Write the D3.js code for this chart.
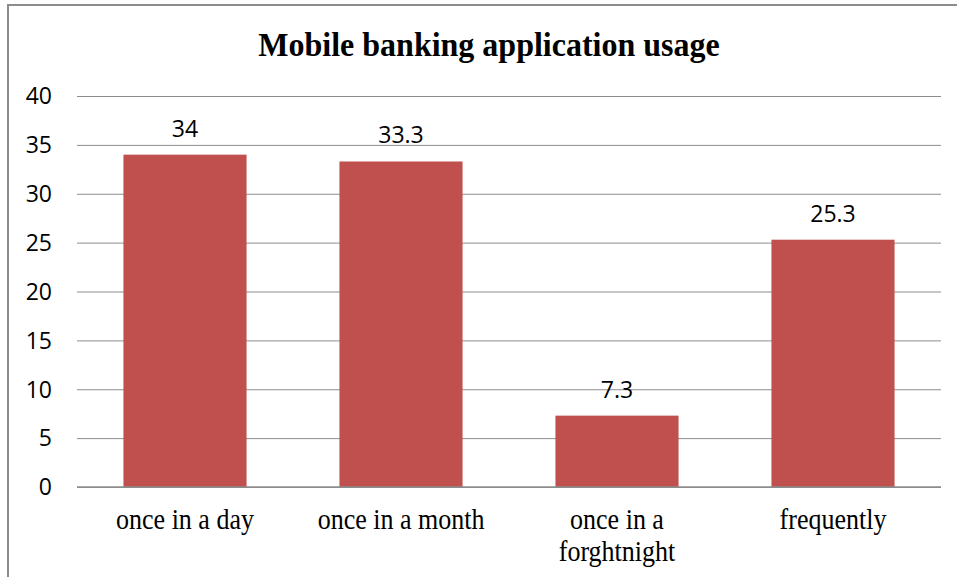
<!DOCTYPE html>
<html>
<head>
<meta charset="utf-8">
<script src="https://cdn.jsdelivr.net/npm/d3@7"></script>
<style>
  html, body { margin: 0; padding: 0; background: #fff; }
  svg { display: block; }
</style>
</head>
<body>
<svg id="chart" width="957" height="577"></svg>
<script>
const title = "Mobile banking application usage";
const categories = ["once in a day", "once in a month", "once in a forghtnight", "frequently"];
const categoryLines = [["once in a day"], ["once in a month"], ["once in a", "forghtnight"], ["frequently"]];
const values = [34, 33.3, 7.3, 25.3];
const valueLabels = ["34", "33.3", "7.3", "25.3"];
const yTicks = [0, 5, 10, 15, 20, 25, 30, 35, 40];

const W = 957, H = 577;
const margin = { left: 77, right: 16, top: 96, bottom: 90 };
const svg = d3.select("#chart");
const numFont = "'Open Sans', 'Liberation Sans', sans-serif";
const serifFont = "'Liberation Serif', 'Times New Roman', serif";

// outer border
svg.append("rect")
  .attr("x", 8).attr("y", 5)
  .attr("width", 980).attr("height", 600)
  .attr("fill", "#fff")
  .attr("stroke", "#8c8c8c")
  .attr("stroke-width", 2);

const x = d3.scaleBand()
  .domain(categories)
  .range([margin.left, W - margin.right])
  .paddingInner(0.43)
  .paddingOuter(0.215);

const y = d3.scaleLinear()
  .domain([0, 40])
  .range([H - margin.bottom, margin.top]);

// gridlines + tick labels
const yAxis = d3.axisLeft(y)
  .tickValues(yTicks)
  .tickSize(-(W - margin.right - margin.left))
  .tickFormat(d3.format("d"));

const gy = svg.append("g")
  .attr("transform", `translate(${margin.left},0)`)
  .call(yAxis);
gy.select(".domain").remove();
gy.selectAll(".tick line").attr("stroke", "#8c8c8c").attr("stroke-width", 1);
gy.selectAll(".tick text")
  .attr("fill", "#000")
  .attr("font-family", numFont)
  .attr("font-size", 23)
  .attr("text-anchor", "end")
  .attr("x", -25)
  .attr("dy", "0.34em");

// bars
svg.append("g").selectAll("rect")
  .data(values)
  .join("rect")
  .attr("x", (d, i) => x(categories[i]))
  .attr("width", x.bandwidth())
  .attr("y", d => y(d))
  .attr("height", d => y(0) - y(d))
  .attr("fill", "#C0504D");

// baseline
svg.append("line")
  .attr("x1", margin.left).attr("x2", W - margin.right)
  .attr("y1", y(0)).attr("y2", y(0))
  .attr("stroke", "#8c8c8c").attr("stroke-width", 1.5);

// value labels
svg.append("g").selectAll("text")
  .data(values)
  .join("text")
  .attr("x", (d, i) => x(categories[i]) + x.bandwidth() / 2)
  .attr("y", d => y(d) - 18)
  .attr("text-anchor", "middle")
  .attr("font-family", numFont)
  .attr("font-size", 23)
  .attr("fill", "#000")
  .text((d, i) => valueLabels[i]);

// category labels (slightly stretched vertically like the reference)
const cg = svg.append("g");
categories.forEach((c, i) => {
  const cx = x(c) + x.bandwidth() / 2;
  const baseY = y(0) + 42;
  const t = cg.append("text")
    .attr("transform", `translate(${cx},${baseY}) scale(1,1.12)`)
    .attr("text-anchor", "middle")
    .attr("font-family", serifFont)
    .attr("font-size", 26)
    .attr("fill", "#000");
  categoryLines[i].forEach((line, j) => {
    t.append("tspan")
      .attr("x", 0)
      .attr("y", j * 29)
      .text(line);
  });
});

// title
svg.append("text")
  .attr("transform", "translate(489,56) scale(1,1.05)")
  .attr("text-anchor", "middle")
  .attr("font-family", serifFont)
  .attr("font-weight", "bold")
  .attr("font-size", 32)
  .attr("fill", "#000")
  .text(title);
</script>
</body>
</html>
